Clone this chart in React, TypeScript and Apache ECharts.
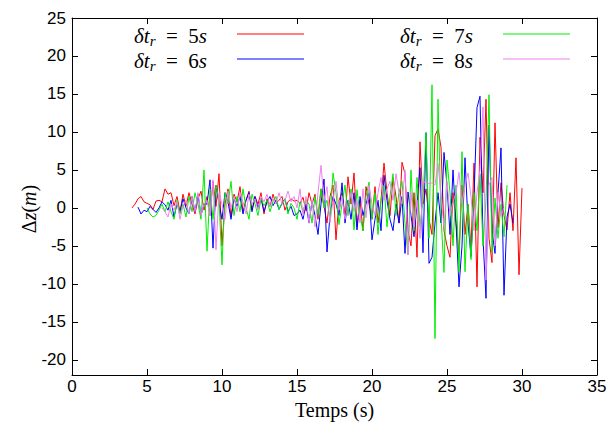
import React, { useEffect, useRef } from "react";
import * as echarts from "echarts";

// sample start times (s) and step
const dt = 0.2;
const start5 = 4.0;
const start6 = 4.4;
const start7 = 5.0;
const start8 = 6.0;

// Δz (m) values, one per step
const dz5 = [
  0.0, 0.5, 1.2, 1.5, 0.8,
  0.6, 0.4, -0.2, 0.9, 1.0,
  0.8, 2.5, 1.8, 2.0, 0.3,
  1.5, -0.5, 1.8, 0.2, 2.0,
  0.5, -0.8, 1.2, 2.2, -0.3,
  1.5, -1.0, 3.5, 0.2, 4.5,
  -5.0, 0.5, 2.5, -1.2, 1.8,
  0.8, 2.8, -0.5, 1.0, 2.2,
  -0.3, 1.5, 0.5, 2.0, -0.8,
  1.2, 0.2, 1.8, 0.6, 1.0,
  1.5, -0.3, 0.8, 1.2, 0.9,
  1.0, 0.6, 1.4, -0.4, 2.0,
  0.5, 1.8, -1.5, 2.5, 0.2,
  -2.0, 1.5, 3.0, -4.2, 1.0,
  2.0, -1.5, 4.1, 0.5, 4.6,
  -2.5, 1.0, -3.0, 2.8, 0.5,
  -1.5, 2.8, -2.0, 1.0, 5.9,
  2.0, -1.0, 4.0, 1.5, -2.0,
  6.0, 4.5, -3.0, -5.0, 2.0,
  -6.5, 8.7, 0.5, 2.5, -1.5,
  -3.5, 9.5, 10.4, 8.0, -3.0,
  -5.0, -6.5, 2.0, -2.0, -6.0,
  3.0, -3.5, 0.5, -5.3, 5.9,
  -10.4, 9.3, 2.0, 14.3, -4.0,
  -7.2, 11.2, -2.6, 3.3, -1.0,
  -2.9, 2.0, -3.0, 6.6, -8.8,
  2.6,
];

const dz6 = [
  0.1, -0.8, -0.3,
  -0.5, 0.2, -0.2, -0.6, 0.0,
  0.8, 0.4, -0.3, 1.0, -1.2,
  0.5, -0.5, 1.2, 0.0, -0.8,
  1.5, -0.5, 1.8, -1.0, 0.5,
  0.5, 3.7, -5.3, 3.0, 0.5,
  -1.5, 2.0, 0.8, -1.5, 1.2,
  0.2, 1.5, -0.8, 1.0, 2.0,
  -0.5, 1.5, 0.0, 1.2, -0.5,
  0.8, 1.5, 0.3, 1.0, -0.2,
  0.6, 1.2, -0.5, 0.2, -1.0,
  -0.8, -0.3, -1.5, 0.5, -2.0,
  0.8, -1.0, -3.5, 0.5, 3.8,
  -5.8, -1.0, 1.5, 0.5, -1.0,
  3.3, -2.0, 1.0, -1.5, 2.0,
  -2.9, 1.5, -1.0, 0.5, 2.0,
  -4.2, -1.5, 1.0, -3.0, 4.3,
  1.0, -1.5, -3.0, 0.5, -2.0,
  1.5, -6.0, 2.1, -1.0, -3.8,
  0.5, 5.3, -5.9, 9.9, -7.3,
  -6.5, -2.0, 2.0, -2.0, 7.3,
  3.0, -3.5, 5.0, -2.0, -10.4,
  -5.0, 6.6, -2.0, -6.4, 1.3,
  13.2, 14.7, -4.0, -11.9, 10.9,
  -3.0, -6.0, 2.0, 7.9, -11.5,
  -1.2, 0.5, -2.0,
];

const dz7 = [
  0.0, -0.8, -1.2, -1.0, -0.3,
  0.5, -0.5, 0.8, -0.5, -1.5,
  1.0, -0.8, 0.5, -1.2, 1.5,
  -0.5, 2.0, 0.5, -1.5, 5.0,
  -5.7, 2.5, -1.5, 3.0, 1.0,
  -7.5, 2.0, 0.5, 3.5, -1.0,
  1.5, -0.5, 2.5, 0.0, -1.5,
  1.8, 0.5, -1.0, 1.2, 0.3,
  1.0, -0.5, 0.8, 1.5, -0.2,
  0.5, 1.2, -0.8, 0.6, 0.0,
  -1.5, 0.8, -0.5, 1.0, 0.5,
  -2.0, 1.5, -1.0, 2.5, 0.0,
  1.0, -1.5, 4.6, 2.0, -2.2,
  0.5, 3.0, -1.0, 2.5, -2.9,
  2.4, -1.0, -3.0, 1.5, 3.4,
  -1.5, 2.0, -3.5, 1.0, 3.0,
  -2.5, 1.5, 4.5, -1.0, 2.0,
  3.5, -2.0, -6.2, 5.0, -3.0,
  4.0, -2.5, 1.0, 9.9, -4.0,
  16.2, -17.2, 14.3, -1.0, -8.5,
  6.3, 2.0, -5.0, 3.0, -8.5,
  7.4, -8.4, 0.5, -6.8, 2.0,
  -3.0, 4.5, -5.0, 1.0, 14.9,
  -5.9, 1.3, -4.0, 0.5, -3.8,
  3.0,
];

const dz8 = [
  0.0, -0.5, -1.2, 0.5, -0.3,
  0.8, -1.5, 0.3, 1.0, -0.8,
  1.5, -0.5, 2.0, -1.0, 0.5,
  1.0, -1.0, 3.7, -5.5, 2.0,
  0.5, -1.5, 2.2, 0.0, 1.5,
  -0.5, 2.0, 0.8, -0.8, 1.8,
  0.5, 1.2, -0.3, 1.5, 0.8,
  1.8, 0.2, 1.2, 0.6, 2.0,
  0.5, 1.0, 2.2, 0.8, 1.5,
  0.0, 2.5, -1.0, 1.5, -2.0,
  1.0, -2.5, 2.0, 5.6, 1.0,
  2.8, -2.0, 1.0, 3.5, -0.3,
  1.5, -1.5, 0.5, 2.0, -0.5,
  1.0, -2.0, 2.5, -1.3, 3.0,
  0.5, -1.0, 2.0, 4.0, 1.0,
  2.5, 3.5, 1.0, 4.5, 2.0,
  0.5, 5.0, -6.2, 2.0, -2.5,
  1.0, -4.0, 3.4, 3.4, 3.2,
  3.3, 3.0, 5.9, 1.5, -2.5,
  3.5, -1.0, 0.8, 2.0, 4.7,
  0.5, 3.0, 4.6, 1.5, -3.0,
  2.0, 5.0, 13.3, -9.5, 3.0,
  4.0, -5.0, 2.0, -1.0, 0.0,
];

const yTicks = [-20, -15, -10, -5, 0, 5, 10, 15, 20, 25];
const seriesNames = ["5", "6", "7", "8"];
const seriesColors = ["#ff0000", "#0000ff", "#00ee00", "#f080f0"];

const toPairs = (t0: number, vals: number[]) =>
  vals.map((v, i) => [Math.round((t0 + i * dt) * 100) / 100, v]);

const serif = "'Liberation Serif', 'DejaVu Serif', serif";
const sans = "'Liberation Sans', Arial, sans-serif";

const legendRich = {
  i: { fontFamily: serif, fontStyle: "italic", fontSize: 21, color: "#000", lineHeight: 24, verticalAlign: "middle" },
  n: { fontFamily: serif, fontSize: 21, color: "#000", lineHeight: 24, verticalAlign: "middle" },
  s: { fontFamily: serif, fontStyle: "italic", fontSize: 15, color: "#000", lineHeight: 24, verticalAlign: "bottom" },
};

const labelRich = {
  i: { fontFamily: serif, fontStyle: "italic", fontSize: 20, color: "#000", lineHeight: 24 },
  n: { fontFamily: serif, fontSize: 20, color: "#000", lineHeight: 24 },
};

function legendItem(name: string, color: string, textRight: number, lineX0: number, y: number) {
  return [
    {
      type: "text",
      x: textRight,
      y: y + 2,
      style: {
        text: `{i|δt}{s|r}{n|  =  ${name}}{i|s}`,
        rich: legendRich,
        align: "right",
        verticalAlign: "middle",
      },
    },
    {
      type: "line",
      shape: { x1: lineX0, y1: y, x2: lineX0 + 67, y2: y },
      style: { stroke: color, lineWidth: 1 },
    },
  ];
}

export default function App() {
  const ref = useRef<HTMLDivElement>(null);
  useEffect(() => {
    if (!ref.current) return;
    const chart = echarts.init(ref.current, null, { renderer: "svg" });
    const datasets = [
      toPairs(start5, dz5),
      toPairs(start6, dz6),
      toPairs(start7, dz7),
      toPairs(start8, dz8),
    ];
    const axisLineStyle = { color: "#000", width: 1 };
    const tickStyle = { inside: true, length: 6, lineStyle: { color: "#000", width: 1 } };
    const option: any = {
      animation: false,
      backgroundColor: "#fff",
      grid: { left: 72, right: 19, top: 18, bottom: 52, containLabel: false, outerBoundsMode: "none" },
      xAxis: [
        {
          type: "value",
          min: 0,
          max: 35,
          interval: 5,
          axisLine: { show: true, onZero: false, lineStyle: axisLineStyle },
          axisTick: { ...tickStyle },
          axisLabel: { color: "#000", fontFamily: sans, fontSize: 17, margin: 3 },
          splitLine: { show: false },
          name: "Temps (s)",
          nameLocation: "middle",
          nameGap: 25,
          nameTextStyle: { fontFamily: serif, fontSize: 20, color: "#000" },
        },
        {
          type: "value",
          position: "top",
          min: 0,
          max: 35,
          interval: 5,
          axisLine: { show: true, onZero: false, lineStyle: axisLineStyle },
          axisTick: { ...tickStyle },
          axisLabel: { show: false },
          splitLine: { show: false },
        },
      ],
      yAxis: [
        {
          type: "value",
          min: -22,
          max: 25,
          axisLine: { show: true, onZero: false, lineStyle: axisLineStyle },
          axisTick: { ...tickStyle, customValues: yTicks },
          axisLabel: { color: "#000", fontFamily: sans, fontSize: 17, margin: 6, customValues: yTicks },
          splitLine: { show: false },
        },
        {
          type: "value",
          position: "right",
          min: -22,
          max: 25,
          axisLine: { show: true, onZero: false, lineStyle: axisLineStyle },
          axisTick: { ...tickStyle, customValues: yTicks },
          axisLabel: { show: false, customValues: yTicks },
          splitLine: { show: false },
        },
      ],
      series: datasets.map((d, k) => ({
        type: "line",
        name: seriesNames[k],
        data: d,
        xAxisIndex: 0,
        yAxisIndex: 0,
        showSymbol: false,
        symbol: "none",
        lineStyle: { color: seriesColors[k], width: 1 },
        itemStyle: { color: seriesColors[k] },
        z: 2 + k,
      })),
      graphic: [
        ...legendItem(seriesNames[0], seriesColors[0], 207, 237, 34),
        ...legendItem(seriesNames[2], seriesColors[2], 473, 503, 34),
        ...legendItem(seriesNames[1], seriesColors[1], 207, 237, 59),
        ...legendItem(seriesNames[3], seriesColors[3], 473, 503, 59),
        {
          type: "text",
          x: 29,
          y: 209,
          rotation: Math.PI / 2,
          style: {
            text: "{n|Δ}{i|z}{n|(}{i|m}{n|)}",
            rich: labelRich,
            align: "center",
            verticalAlign: "middle",
          },
        },
      ],
    };
    chart.setOption(option);
    return () => chart.dispose();
  }, []);
  return (
    <div
      ref={ref}
      style={{ position: "absolute", left: 0, top: 0, width: 616, height: 427 }}
    />
  );
}
